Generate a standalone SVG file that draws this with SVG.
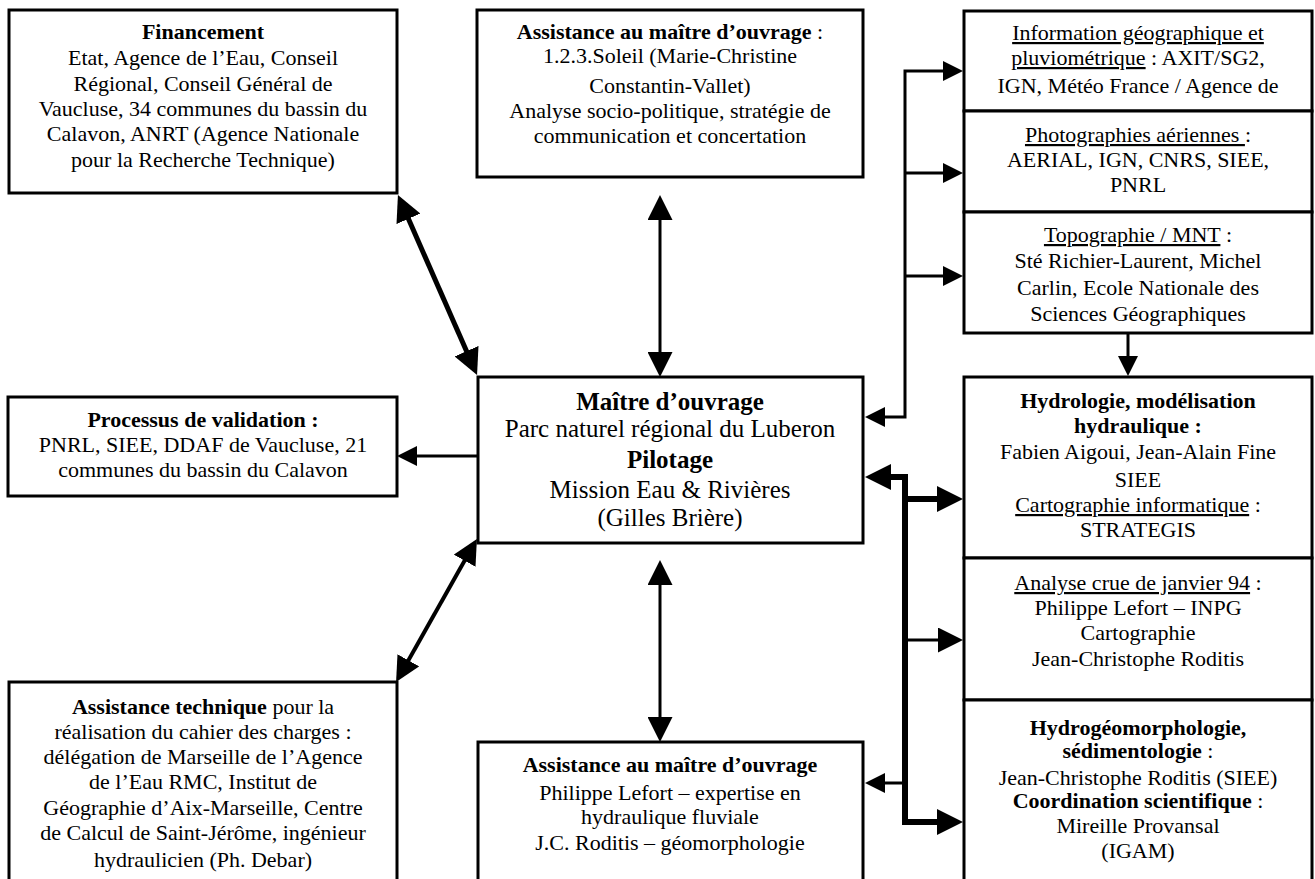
<svg xmlns="http://www.w3.org/2000/svg" width="1315" height="879" viewBox="0 0 1315 879">
<style>
.box{fill:#fff;stroke:#000;stroke-width:3}
.t{font-family:"Liberation Serif","Times New Roman",serif;font-size:22px;text-anchor:middle;fill:#000}
.m{font-size:25px}
.b{font-weight:bold}
.u{text-decoration:underline}
.c{fill:none;stroke:#000;stroke-linejoin:miter}
.s3{stroke-width:3}
.s4{stroke-width:4}
.s5{stroke-width:5}
.s6{stroke-width:6}
</style>
<defs>
<marker id="a20" markerUnits="userSpaceOnUse" markerWidth="20" markerHeight="20" refX="3" refY="10" orient="auto-start-reverse" viewBox="0 0 20 20"><path d="M0,0 L20,10 L0,20 z" fill="#000"/></marker>
<marker id="a25" markerUnits="userSpaceOnUse" markerWidth="25" markerHeight="25" refX="3" refY="12.5" orient="auto-start-reverse" viewBox="0 0 25 25"><path d="M0,0 L25,12.5 L0,25 z" fill="#000"/></marker>
<marker id="a26" markerUnits="userSpaceOnUse" markerWidth="26" markerHeight="26" refX="3" refY="13" orient="auto-start-reverse" viewBox="0 0 26 26"><path d="M0,0 L26,13 L0,26 z" fill="#000"/></marker>
</defs>
<rect width="1315" height="879" fill="#fff"/>

<g id="connectors">
<path class="c s5" d="M407.2,216.1 L467.8,353.9" marker-start="url(#a26)" marker-end="url(#a26)"/>
<path class="c s4" d="M466.1,558.1 L406.9,662.9" marker-start="url(#a25)" marker-end="url(#a25)"/>
<path class="c s3" d="M660,217 L660,355" marker-start="url(#a25)" marker-end="url(#a25)"/>
<path class="c s3" d="M660,582 L660,720" marker-start="url(#a25)" marker-end="url(#a25)"/>
<path class="c s3" d="M478,456 L414,456" marker-end="url(#a20)"/>
<path class="c s3" d="M946,71 L905,71 L905,417 L882,417" marker-start="url(#a20)" marker-end="url(#a20)"/>
<path class="c s3" d="M905,173 L946,173" marker-end="url(#a20)"/>
<path class="c s3" d="M905,276 L946,276" marker-end="url(#a20)"/>
<path class="c s3" d="M1128,333 L1128,359" marker-end="url(#a20)"/>
<path class="c s6" d="M888,477 L905,477 L905,822 L940,822" marker-start="url(#a26)" marker-end="url(#a26)"/>
<path class="c s6" d="M905,499 L940,499" marker-end="url(#a26)"/>
<path class="c s3" d="M905,640 L941,640" marker-end="url(#a25)"/>
<path class="c s3" d="M905,783 L882,783" marker-end="url(#a20)"/>
</g>

<g id="financement">
<rect class="box" x="9" y="10" width="388" height="183"/>
<text class="t b" x="203" y="39">Financement</text>
<text class="t" x="203" y="65">Etat, Agence de l’Eau, Conseil</text>
<text class="t" x="203" y="91">Régional, Conseil Général de</text>
<text class="t" x="203" y="116">Vaucluse, 34 communes du bassin du</text>
<text class="t" x="203" y="141">Calavon, ANRT (Agence Nationale</text>
<text class="t" x="203" y="167">pour la Recherche Technique)</text>
</g>

<g id="amo-top">
<rect class="box" x="477" y="10" width="386" height="167"/>
<text class="t" x="670" y="39"><tspan class="b">Assistance au maître d’ouvrage</tspan> :</text>
<text class="t" x="670" y="63">1.2.3.Soleil (Marie-Christine</text>
<text class="t" x="670" y="93">Constantin-Vallet)</text>
<text class="t" x="670" y="118">Analyse socio-politique, stratégie de</text>
<text class="t" x="670" y="143">communication et concertation</text>
</g>

<g id="info-geo">
<rect class="box" x="964" y="11" width="348" height="100"/>
<text class="t" x="1138" y="40"><tspan class="u">Information géographique et</tspan></text>
<text class="t" x="1138" y="65"><tspan class="u">pluviométrique</tspan> : AXIT/SG2,</text>
<text class="t" x="1138" y="93">IGN, Météo France / Agence de</text>
</g>

<g id="photos">
<rect class="box" x="964" y="111" width="348" height="101"/>
<text class="t" x="1138" y="142"><tspan class="u">Photographies aériennes </tspan>:</text>
<text class="t" x="1138" y="167">AERIAL, IGN, CNRS, SIEE,</text>
<text class="t" x="1138" y="192">PNRL</text>
</g>

<g id="topo">
<rect class="box" x="964" y="212" width="348" height="121"/>
<text class="t" x="1138" y="242"><tspan class="u">Topographie / MNT</tspan> :</text>
<text class="t" x="1138" y="268">Sté Richier-Laurent, Michel</text>
<text class="t" x="1138" y="295">Carlin, Ecole Nationale des</text>
<text class="t" x="1138" y="321">Sciences Géographiques</text>
</g>

<g id="validation">
<rect class="box" x="8" y="397" width="389" height="99"/>
<text class="t b" x="203" y="427">Processus de validation :</text>
<text class="t" x="203" y="452">PNRL, SIEE, DDAF de Vaucluse, 21</text>
<text class="t" x="203" y="477">communes du bassin du Calavon</text>
</g>

<g id="maitre-ouvrage">
<rect class="box" x="478" y="377" width="385" height="166"/>
<text class="t m b" x="670" y="410">Maître d’ouvrage</text>
<text class="t m" x="670" y="437">Parc naturel régional du Luberon</text>
<text class="t m b" x="670" y="468">Pilotage</text>
<text class="t m" x="670" y="498">Mission Eau &amp; Rivières</text>
<text class="t m" x="670" y="526">(Gilles Brière)</text>
</g>

<g id="hydrologie">
<rect class="box" x="964" y="377" width="348" height="181"/>
<text class="t b" x="1138" y="408">Hydrologie, modélisation</text>
<text class="t b" x="1138" y="433">hydraulique :</text>
<text class="t" x="1138" y="459">Fabien Aigoui, Jean-Alain Fine</text>
<text class="t" x="1138" y="487">SIEE</text>
<text class="t" x="1138" y="512"><tspan class="u">Cartographie informatique</tspan> :</text>
<text class="t" x="1138" y="537">STRATEGIS</text>
</g>

<g id="crue">
<rect class="box" x="964" y="558" width="348" height="142"/>
<text class="t" x="1138" y="590"><tspan class="u">Analyse crue de janvier 94</tspan> :</text>
<text class="t" x="1138" y="615">Philippe Lefort – INPG</text>
<text class="t" x="1138" y="640">Cartographie</text>
<text class="t" x="1138" y="666">Jean-Christophe Roditis</text>
</g>

<g id="hydrogeomorphologie">
<rect class="box" x="964" y="700" width="348" height="181"/>
<text class="t b" x="1138" y="735">Hydrogéomorphologie,</text>
<text class="t" x="1138" y="758"><tspan class="b">sédimentologie</tspan> :</text>
<text class="t" x="1138" y="785">Jean-Christophe Roditis (SIEE)</text>
<text class="t" x="1138" y="808"><tspan class="b">Coordination scientifique</tspan> :</text>
<text class="t" x="1138" y="833">Mireille Provansal</text>
<text class="t" x="1138" y="858">(IGAM)</text>
</g>

<g id="assistance-technique">
<rect class="box" x="9" y="682" width="388" height="199"/>
<text class="t" x="203" y="714"><tspan class="b">Assistance technique</tspan> pour la</text>
<text class="t" x="203" y="739">réalisation du cahier des charges :</text>
<text class="t" x="203" y="764">délégation de Marseille de l’Agence</text>
<text class="t" x="203" y="789">de l’Eau RMC, Institut de</text>
<text class="t" x="203" y="815">Géographie d’Aix-Marseille, Centre</text>
<text class="t" x="203" y="840">de Calcul de Saint-Jérôme, ingénieur</text>
<text class="t" x="203" y="867">hydraulicien (Ph. Debar)</text>
</g>

<g id="amo-bottom">
<rect class="box" x="478" y="742" width="385" height="139"/>
<text class="t b" x="670" y="772">Assistance au maître d’ouvrage</text>
<text class="t" x="670" y="800">Philippe Lefort – expertise en</text>
<text class="t" x="670" y="824">hydraulique fluviale</text>
<text class="t" x="670" y="850">J.C. Roditis – géomorphologie</text>
</g>
</svg>
